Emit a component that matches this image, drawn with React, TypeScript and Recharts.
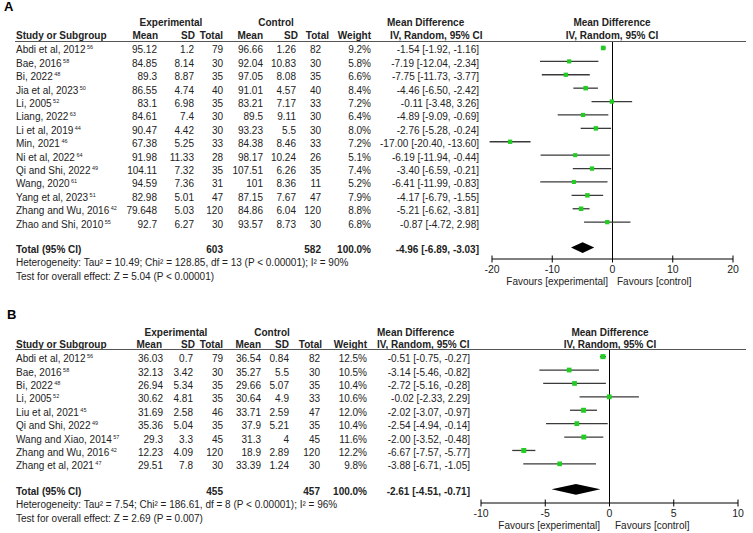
import React from 'react';
import { ScatterChart, Scatter, XAxis, YAxis, ErrorBar, ReferenceLine, ReferenceArea } from 'recharts';

const FONT = '"Liberation Sans", Arial, sans-serif';
const INK = '#222';
const GREEN = '#22cc22';

// ---- panel A data ----
const studyA = ['Abdi et al, 2012', 'Bae, 2016', 'Bi, 2022', 'Jia et al, 2023', 'Li, 2005', 'Liang, 2022', 'Li et al, 2019', 'Min, 2021', 'Ni et al, 2022', 'Qi and Shi, 2022', 'Wang, 2020', 'Yang et al, 2023', 'Zhang and Wu, 2016', 'Zhao and Shi, 2010'];
const refA = ['56', '58', '48', '50', '52', '63', '44', '46', '64', '49', '61', '51', '42', '55'];
const expMeanA = [95.12, 84.85, 89.3, 86.55, 83.1, 84.61, 90.47, 67.38, 91.98, 104.11, 94.59, 82.98, 79.648, 92.7];
const expSdA = [1.2, 8.14, 8.87, 4.74, 6.98, 7.4, 4.42, 5.25, 11.33, 7.32, 7.36, 5.01, 5.03, 6.27];
const expNA = [79, 30, 35, 40, 35, 30, 30, 33, 28, 35, 31, 47, 120, 30];
const ctlMeanA = [96.66, 92.04, 97.05, 91.01, 83.21, 89.5, 93.23, 84.38, 98.17, 107.51, 101, 87.15, 84.86, 93.57];
const ctlSdA = [1.26, 10.83, 8.08, 4.57, 7.17, 9.11, 5.5, 8.46, 10.24, 6.26, 8.36, 7.67, 6.04, 8.73];
const ctlNA = [82, 30, 35, 40, 33, 30, 30, 33, 26, 35, 11, 47, 120, 30];
const weightA = [9.2, 5.8, 6.6, 8.4, 7.2, 6.4, 8.0, 7.2, 5.1, 7.4, 5.2, 7.9, 8.8, 6.8];
const mdA = [-1.54, -7.19, -7.75, -4.46, -0.11, -4.89, -2.76, -17.0, -6.19, -3.4, -6.41, -4.17, -5.21, -0.87];
const loA = [-1.92, -12.04, -11.73, -6.5, -3.48, -9.09, -5.28, -20.4, -11.94, -6.59, -11.99, -6.79, -6.62, -4.72];
const hiA = [-1.16, -2.34, -3.77, -2.42, 3.26, -0.69, -0.24, -13.6, -0.44, -0.21, -0.83, -1.55, -3.81, 2.98];
const totalA = { expN: 603, ctlN: 582, md: -4.96, lo: -6.89, hi: -3.03 };
const ticksA = [-20, -10, 0, 10, 20];
const notesA = [
  'Heterogeneity: Tau² = 10.49; Chi² = 128.85, df = 13 (P < 0.00001); I² = 90%',
  'Test for overall effect: Z = 5.04 (P < 0.00001)',
];

// ---- panel B data ----
const studyB = ['Abdi et al, 2012', 'Bae, 2016', 'Bi, 2022', 'Li, 2005', 'Liu et al, 2021', 'Qi and Shi, 2022', 'Wang and Xiao, 2014', 'Zhang and Wu, 2016', 'Zhang et al, 2021'];
const refB = ['56', '58', '48', '52', '45', '49', '57', '42', '47'];
const expMeanB = [36.03, 32.13, 26.94, 30.62, 31.69, 35.36, 29.3, 12.23, 29.51];
const expSdB = [0.7, 3.42, 5.34, 4.81, 2.58, 5.04, 3.3, 4.09, 7.8];
const expNB = [79, 30, 35, 35, 46, 35, 45, 120, 30];
const ctlMeanB = [36.54, 35.27, 29.66, 30.64, 33.71, 37.9, 31.3, 18.9, 33.39];
const ctlSdB = [0.84, 5.5, 5.07, 4.9, 2.59, 5.21, 4, 2.89, 1.24];
const ctlNB = [82, 30, 35, 33, 47, 35, 45, 120, 30];
const weightB = [12.5, 10.5, 10.4, 10.6, 12.0, 10.4, 11.6, 12.2, 9.8];
const mdB = [-0.51, -3.14, -2.72, -0.02, -2.02, -2.54, -2.0, -6.67, -3.88];
const loB = [-0.75, -5.46, -5.16, -2.33, -3.07, -4.94, -3.52, -7.57, -6.71];
const hiB = [-0.27, -0.82, -0.28, 2.29, -0.97, -0.14, -0.48, -5.77, -1.05];
const totalB = { expN: 455, ctlN: 457, md: -2.61, lo: -4.51, hi: -0.71 };
const ticksB = [-10, -5, 0, 5, 10];
const notesB = [
  'Heterogeneity: Tau² = 7.54; Chi² = 186.61, df = 8 (P < 0.00001); I² = 96%',
  'Test for overall effect: Z = 2.69 (P = 0.007)',
];

const ci = (m: number, l: number, h: number) => `${m.toFixed(2)} [${l.toFixed(2)}, ${h.toFixed(2)}]`;

const panelA = {
  label: 'A', top: 0, height: 290,
  study: studyA, refs: refA, expMean: expMeanA, expSd: expSdA, expN: expNA,
  ctlMean: ctlMeanA, ctlSd: ctlSdA, ctlN: ctlNA, weight: weightA,
  md: mdA, lo: loA, hi: hiA, total: totalA, ticks: ticksA, notes: notesA,
  yDomain: [-0.52, 15.75], margin: { top: 41, right: 20, bottom: 7, left: 491 },
  col: { expMean: 157, expSd: 194, expN: 223, ctlMean: 263, ctlSd: 296, ctlN: 321, weight: 371, ci: 479 },
  head: { expMean: 158, expSd: 195, expN: 223, ctlMean: 263, ctlSd: 298, ctlN: 329, weight: 371 },
  grp: { exp: 171, ctl: 276 }, mdHead: [387, 390], zeroX: 612,
  favours: [608, 617],
  lab: { x: 4, y: 11 }, grpY: 26, headY: 39, lineY: 41, noteY: [266, 280],
};

const panelB = {
  label: 'B', top: 290, height: 243,
  study: studyB, refs: refB, expMean: expMeanB, expSd: expSdB, expN: expNB,
  ctlMean: ctlMeanB, ctlSd: ctlSdB, ctlN: ctlNB, weight: weightB,
  md: mdB, lo: loB, hi: hiB, total: totalB, ticks: ticksB, notes: notesB,
  yDomain: [-0.57, 10.92], margin: { top: 59, right: 15, bottom: 6, left: 480 },
  col: { expMean: 163, expSd: 193, expN: 223, ctlMean: 261, ctlSd: 289, ctlN: 320, weight: 367, ci: 470 },
  head: { expMean: 162, expSd: 195, expN: 223, ctlMean: 261, ctlSd: 289, ctlN: 322, weight: 367 },
  grp: { exp: 176, ctl: 272 }, mdHead: [377, 377], zeroX: 610,
  favours: [600, 615],
  lab: { x: 7, y: 29 }, grpY: 46, headY: 58, lineY: 59, noteY: [218, 232],
};

type Panel = typeof panelA;

const totalRow = (p: Panel) => p.study.length - 1 + 1.9;

const RowTick = ({ y, payload, p }: any) => {
  const v = payload.value;
  const ty = y + 5.5;
  const c = p.col;
  if (v === totalRow(p)) {
    return (
      <g fontFamily={FONT} fontSize={10} fontWeight="bold" fill={INK}>
        <text x={16} y={ty}>Total (95% CI)</text>
        <text x={c.expN} y={ty} textAnchor="end">{p.total.expN}</text>
        <text x={c.ctlN} y={ty} textAnchor="end">{p.total.ctlN}</text>
        <text x={c.weight} y={ty} textAnchor="end">100.0%</text>
        <text x={c.ci} y={ty} textAnchor="end">{ci(p.total.md, p.total.lo, p.total.hi)}</text>
      </g>
    );
  }
  const i = v;
  return (
    <g fontFamily={FONT} fontSize={10} fill={INK}>
      <text x={16} y={ty}>
        {p.study[i]}
        <tspan fontSize={5.5} dx={1.5} dy={-4}>{p.refs[i]}</tspan>
      </text>
      <text x={c.expMean} y={ty} textAnchor="end">{p.expMean[i]}</text>
      <text x={c.expSd} y={ty} textAnchor="end">{p.expSd[i]}</text>
      <text x={c.expN} y={ty} textAnchor="end">{p.expN[i]}</text>
      <text x={c.ctlMean} y={ty} textAnchor="end">{p.ctlMean[i]}</text>
      <text x={c.ctlSd} y={ty} textAnchor="end">{p.ctlSd[i]}</text>
      <text x={c.ctlN} y={ty} textAnchor="end">{p.ctlN[i]}</text>
      <text x={c.weight} y={ty} textAnchor="end">{p.weight[i].toFixed(1)}%</text>
      <text x={c.ci} y={ty} textAnchor="end">{ci(p.md[i], p.lo[i], p.hi[i])}</text>
    </g>
  );
};

const AxisTick = ({ x, y, payload }: any) => (
  <g>
    <line x1={x} x2={x} y1={y - 3.5} y2={y + 3.5} stroke="#000" />
    <text x={x} y={y + 14} textAnchor="middle" fontFamily={FONT} fontSize={10.5} fill={INK}>
      {payload.value}
    </text>
  </g>
);

const Square = (props: any) => {
  const { cx, cy, payload } = props;
  const s = 3.4 + payload.w * 0.13;
  return <rect x={cx - s / 2} y={cy - s / 2} width={s} height={s} fill={GREEN} />;
};

const Diamond = (props: any) => {
  const { x, y, width, height } = props;
  const cx = x + width / 2;
  const cy = y + height / 2;
  return <polygon points={`${x},${cy} ${cx},${y} ${x + width},${cy} ${cx},${y + height}`} fill="#000" />;
};

const ForestChart = ({ p }: { p: Panel }) => {
  const rows = p.study.map((_, i) => ({
    y: i,
    md: p.md[i],
    w: p.weight[i],
    err: [p.md[i] - p.lo[i], p.hi[i] - p.md[i]],
  }));
  const tY = totalRow(p);
  const yTicks = [...p.study.map((_, i) => i), tY];
  const xMin = p.ticks[0];
  const xMax = p.ticks[p.ticks.length - 1];
  return (
    <ScatterChart width={753} height={p.height} margin={p.margin}>
      <XAxis
        type="number"
        dataKey="md"
        domain={[xMin, xMax]}
        ticks={p.ticks}
        allowDataOverflow
        height={24}
        tickSize={0}
        tickMargin={0}
        tickLine={false}
        axisLine={{ stroke: '#000' }}
        tick={<AxisTick />}
        interval={0}
      />
      <YAxis
        type="number"
        dataKey="y"
        domain={p.yDomain}
        reversed
        allowDataOverflow
        ticks={yTicks}
        interval={0}
        width={1}
        axisLine={false}
        tickLine={false}
        tick={(props: any) => <RowTick {...props} p={p} />}
      />
      <ReferenceLine x={0} stroke="#000" strokeWidth={1} />
      <ReferenceArea
        x1={p.total.lo}
        x2={p.total.hi}
        y1={tY - 0.4}
        y2={tY + 0.4}
        shape={(props: any) => <Diamond {...props} />}
      />
      <Scatter data={rows} isAnimationActive={false} shape={(props: any) => <Square {...props} />}>
        <ErrorBar dataKey="err" direction="x" width={0} stroke="#3a3a3a" strokeWidth={1.3} />
      </Scatter>
    </ScatterChart>
  );
};

const Headers = ({ p }: { p: Panel }) => {
  const t = p.top;
  const h = p.head;
  const hy = t + p.headY;
  return (
    <g fontFamily={FONT} fill={INK} fontSize={10}>
      <text x={p.lab.x} y={t + p.lab.y} fontSize={13} fontWeight="bold" fill="#000">{p.label}</text>
      <g fontWeight="bold">
        <text x={p.grp.exp} y={t + p.grpY} textAnchor="middle">Experimental</text>
        <text x={p.grp.ctl} y={t + p.grpY} textAnchor="middle">Control</text>
        <text x={16} y={hy}>Study or Subgroup</text>
        <text x={h.expMean} y={hy} textAnchor="end">Mean</text>
        <text x={h.expSd} y={hy} textAnchor="end">SD</text>
        <text x={h.expN} y={hy} textAnchor="end">Total</text>
        <text x={h.ctlMean} y={hy} textAnchor="end">Mean</text>
        <text x={h.ctlSd} y={hy} textAnchor="end">SD</text>
        <text x={h.ctlN} y={hy} textAnchor="end">Total</text>
        <text x={h.weight} y={hy} textAnchor="end">Weight</text>
        <text x={p.mdHead[0]} y={t + p.grpY}>Mean Difference</text>
        <text x={p.mdHead[1]} y={hy}>IV, Random, 95% CI</text>
        <text x={p.zeroX} y={t + p.grpY} textAnchor="middle">Mean Difference</text>
        <text x={p.zeroX} y={hy} textAnchor="middle">IV, Random, 95% CI</text>
      </g>
      <line x1={15} x2={746} y1={t + p.lineY + 0.5} y2={t + p.lineY + 0.5} stroke="#555" strokeWidth={1.2} />
      <text x={16} y={t + p.noteY[0]}>{p.notes[0]}</text>
      <text x={16} y={t + p.noteY[1]}>{p.notes[1]}</text>
      <text x={p.favours[0]} y={t + p.height - p.margin.bottom - 24 + 26} textAnchor="end">Favours [experimental]</text>
      <text x={p.favours[1]} y={t + p.height - p.margin.bottom - 24 + 26}>Favours [control]</text>
    </g>
  );
};

export default function App() {
  return (
    <div style={{ position: 'absolute', left: 0, top: 0, width: 753, height: 533, background: '#fff' }}>
      <div style={{ position: 'absolute', left: 0, top: panelA.top }}>
        <ForestChart p={panelA} />
      </div>
      <div style={{ position: 'absolute', left: 0, top: panelB.top }}>
        <ForestChart p={panelB as Panel} />
      </div>
      <svg width={753} height={533} style={{ position: 'absolute', left: 0, top: 0, pointerEvents: 'none' }}>
        <Headers p={panelA} />
        <Headers p={panelB as Panel} />
      </svg>
    </div>
  );
}
